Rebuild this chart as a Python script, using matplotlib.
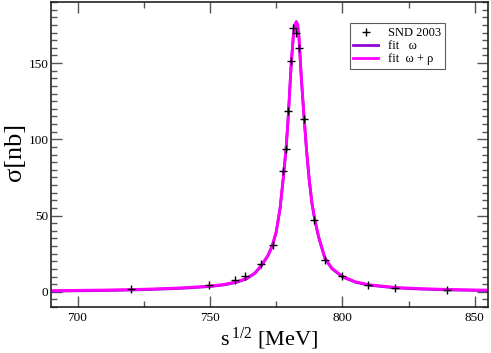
import matplotlib
matplotlib.use("Agg")
import matplotlib.pyplot as plt
from matplotlib.ticker import MultipleLocator

plt.rcParams['font.family'] = ['Liberation Serif', 'DejaVu Serif']
plt.rcParams['mathtext.fontset'] = 'custom'
plt.rcParams['mathtext.rm'] = 'Liberation Serif'

# SND 2003 data points
snd_x = [720, 749.5, 759.3, 763.3, 769.2, 773.7, 777.6, 778.7, 779.6, 780.6,
         781.3, 782.5, 783.6, 785.6, 789.4, 793.3, 799.7, 809.5, 819.7, 839.6]
snd_y = [1.6, 4.3, 7.7, 10.6, 18.5, 30.8, 79.5, 93.7, 118.8, 151.7,
         173.0, 170.0, 159.8, 113.3, 47.2, 20.8, 10.5, 4.5, 2.5, 1.0]

# fit curves
fit_x = [690, 700, 710, 720, 730, 740, 750, 755, 760, 764, 767, 769.6, 772,
         773.6, 775, 776.5, 777.7, 778.8, 779.6, 780.7, 781.5, 782.1, 782.6,
         783.1, 783.6, 784.5, 785.5, 786.5, 787.5, 788.5, 789.6, 791, 793.4,
         796, 800, 805, 810, 820, 830, 840, 855]
fit_omega = [0.5, 0.7, 0.9, 1.2, 1.7, 2.4, 3.5, 4.5, 6.2, 8.7, 12.2, 17.5, 24,
             30.5, 39, 55, 75, 95, 116, 150, 168, 175, 177,
             175, 167, 140, 115, 92, 73, 58, 47, 36, 22,
             15.3, 9.8, 6.3, 4.4, 2.6, 1.8, 1.3, 0.8]
fit_omega_rho = [0.8, 1.0, 1.2, 1.5, 2.0, 2.7, 3.8, 4.8, 6.5, 9.0, 12.5, 17.8, 24.3,
                 30.8, 39.3, 55.3, 75.3, 95.3, 116.3, 150.3, 168.3, 175.3, 177.3,
                 175.3, 167.3, 140.3, 115.3, 92.3, 73.3, 58.3, 47.3, 36.3, 22.3,
                 15.6, 10.1, 6.6, 4.7, 2.9, 2.1, 1.6, 1.1]

fig = plt.figure(figsize=(4.91, 3.53), dpi=100)
ax = fig.add_axes([0.104, 0.130, 0.890, 0.864])

ax.plot(snd_x, snd_y, linestyle='none', marker='+', color='black',
        markersize=6, markeredgewidth=1.0, label='SND 2003', zorder=5)
ax.plot(fit_x, fit_omega, color='#9400d3', lw=2.0, label='fit   ω')
ax.plot(fit_x, fit_omega_rho, color='#ff00ff', lw=2.0, label='fit  ω + ρ')

ax.set_xlim(690, 855)
ax.set_ylim(-10, 190)
ax.xaxis.set_major_locator(MultipleLocator(50))
ax.xaxis.set_minor_locator(MultipleLocator(25))
ax.yaxis.set_major_locator(MultipleLocator(50))
ax.yaxis.set_minor_locator(MultipleLocator(5))
ax.tick_params(which='both', direction='in', top=True, right=True,
               labelsize=9.5, color='#555555', width=1.0)
ax.tick_params(axis='y', pad=2)
ax.tick_params(which='major', length=8)
ax.tick_params(which='minor', length=4)
for sp in ax.spines.values():
    sp.set_linewidth(1.2)
    sp.set_color('#222222')

ax.set_ylabel('σ[nb]', fontsize=19)
ax.yaxis.set_label_coords(-0.083, 0.51)
ax.yaxis.label.set_verticalalignment('center')
ax.set_xlabel(r'$\mathregular{s^{\,1/2}}$ [MeV]', fontsize=16, labelpad=1)

leg = ax.legend(loc='upper right', bbox_to_anchor=(0.902, 0.931), fontsize=9,
                frameon=True, fancybox=False, handlelength=2.0,
                borderpad=0.3, labelspacing=0.1, handletextpad=0.8,
                borderaxespad=0.0)
leg.get_frame().set_edgecolor('#333333')
leg.get_frame().set_linewidth(0.8)

fig.savefig('out.png', dpi=100)
